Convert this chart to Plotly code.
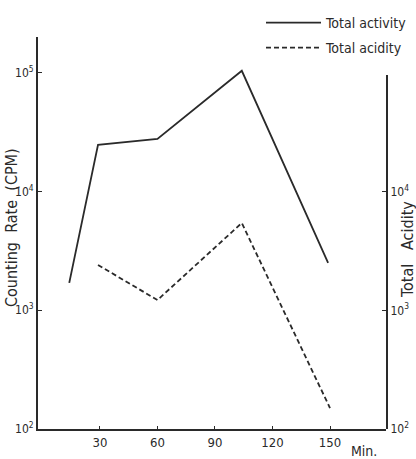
import plotly.graph_objects as go

# Data
minutes_activity = [14, 29, 60, 104, 149]
total_activity = [1700, 24700, 27700, 103700, 2500]

minutes_acidity = [29, 60, 104, 150]
total_acidity = [2410, 1220, 5440, 150]

x_ticks = [30, 60, 90, 120, 150]
x_tick_labels = ["30", "60", "90", "120", "150"]
y_ticks = [100, 1000, 10000, 100000]
y_tick_labels = ["10<sup>2</sup>", "10<sup>3</sup>", "10<sup>4</sup>", "10<sup>5</sup>"]
y2_ticks = [100, 1000, 10000]
y2_tick_labels = ["10<sup>2</sup>", "10<sup>3</sup>", "10<sup>4</sup>"]

FONT = "Liberation Sans Narrow, DejaVu Sans Condensed, sans-serif"
INK = "#2a2a2a"

fig = go.Figure()
fig.add_trace(go.Scatter(
    x=minutes_activity, y=total_activity, mode="lines", name="Total activity",
    line=dict(color=INK, width=1.8), xaxis="x", yaxis="y", legend="legend"))
fig.add_trace(go.Scatter(
    x=minutes_acidity, y=total_acidity, mode="lines", name="Total acidity",
    line=dict(color=INK, width=1.8, dash="5px,3px"), xaxis="x", yaxis="y2",
    legend="legend2"))

leg_common = dict(xanchor="left", yanchor="top", bgcolor="rgba(0,0,0,0)",
                  font=dict(size=14, family=FONT), itemwidth=55)

fig.update_layout(
    width=416, height=459,
    margin=dict(l=38, r=30, t=37, b=30, autoexpand=False),
    paper_bgcolor="white", plot_bgcolor="rgba(0,0,0,0)",
    font=dict(family=FONT, color=INK, size=13),
    showlegend=True,
    legend=dict(x=(261 - 38) / 348, y=(429 - 7) / 392, **leg_common),
    legend2=dict(x=(261 - 38) / 348, y=(429 - 32) / 392, **leg_common),
    xaxis=dict(range=[-2.3, 179.2], showline=True, linecolor=INK, linewidth=2,
               showgrid=False, zeroline=False, tickvals=x_ticks, ticktext=x_tick_labels,
               ticks="inside", ticklen=3, tickcolor=INK, tickfont=dict(size=13)),
    yaxis=dict(type="log", range=[2, 5.30], showline=True, linecolor=INK, linewidth=2,
               showgrid=False, zeroline=False, tickvals=y_ticks, ticktext=y_tick_labels,
               ticks="inside", ticklen=4, tickcolor=INK, tickfont=dict(size=12)),
    yaxis2=dict(type="log", range=[2, 2 + 354 / 118.7], domain=[0, 354 / 392],
                anchor="x", side="right", showline=True, linecolor=INK, linewidth=2,
                showgrid=False, zeroline=False, tickvals=y2_ticks, ticktext=y2_tick_labels,
                ticks="inside", ticklen=4, tickcolor=INK, tickfont=dict(size=12)),
)

fig.add_annotation(text="Counting  Rate  (CPM)", xref="paper", yref="paper",
                   x=(11 - 38) / 348, y=(429 - 228) / 392, textangle=-90, showarrow=False,
                   xanchor="center", yanchor="middle", font=dict(size=16, family=FONT))
fig.add_annotation(text="Total   Acidity", xref="paper", yref="paper",
                   x=(407 - 38) / 348, y=(429 - 250) / 392, textangle=-90, showarrow=False,
                   xanchor="center", yanchor="middle", font=dict(size=16, family=FONT))
fig.add_annotation(text="Min.", xref="paper", yref="paper",
                   x=(364 - 38) / 348, y=(429 - 451) / 392, showarrow=False,
                   xanchor="center", yanchor="middle", font=dict(size=14, family=FONT))

fig.write_html("out.html")
